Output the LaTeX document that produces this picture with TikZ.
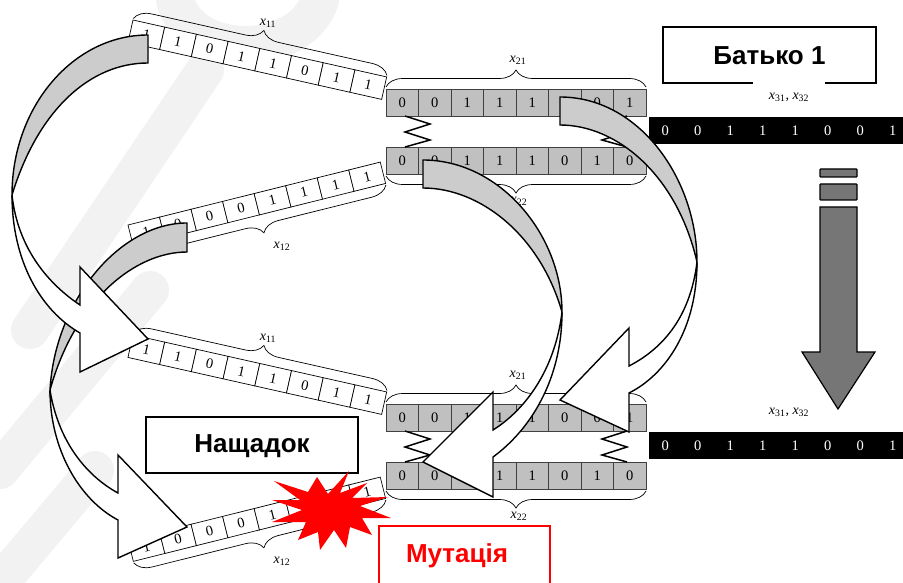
\documentclass[tikz,border=0pt]{standalone}
\usepackage{fontspec}
\setmainfont{Liberation Serif}
\newfontfamily\boxfont{Liberation Sans}
\usetikzlibrary{decorations.pathreplacing}

\definecolor{cellgray}{RGB}{192,192,192}
\definecolor{bandgray}{RGB}{204,204,204}
\definecolor{downgray}{RGB}{118,118,118}
\definecolor{mutred}{RGB}{255,0,0}
\definecolor{wmark}{RGB}{242,242,242}

\tikzset{
  whitecell/.style={draw=black, line width=0.7pt, fill=white},
  graycell/.style={draw=black!75, line width=0.7pt, fill=cellgray},
  digit/.style={font=\fontsize{14.5}{15}\selectfont, inner sep=0pt},
  wdigit/.style={digit, text=white},
  lbl/.style={font=\fontsize{14}{14}\selectfont, inner sep=1pt},
  bracestyle/.style={decorate, decoration={brace, amplitude=17pt}, line width=0.7pt},
  titlebox/.style={draw=black, line width=1.8pt, fill=white, minimum width=213pt,
    minimum height=56pt, inner sep=0pt},
  titletext/.style={font=\boxfont\bfseries\fontsize{26}{26}\selectfont, inner sep=0pt},
  band/.style={draw=black, line width=1.4pt, fill=bandgray, line join=miter},
  whiteband/.style={draw=black, line width=1.4pt, fill=white, line join=miter},
  zig/.style={draw=black, line width=1.5pt},
  wmstroke/.style={draw=wmark, line width=38pt, line cap=round},
}

% one set of chromosomes: x11, x12, x21, x22 and x31/x32; #1 = name prefix
\newcommand\chromset[1]{%
  % x11, slanted down to the right
  \begin{scope}[shift={(133,20)}, rotate=-12.65]
    \foreach \b [count=\i from 0] in {1,1,0,1,1,0,1,1}{
      \draw[whitecell] (\i*32.5,0) rectangle ++(32.5,23);
      \node[digit, transform shape] (#1a\i) at (\i*32.5+16.25,11.5) {\b};}
    \draw[bracestyle] (0,-1.5) -- (260,-1.5);
  \end{scope}
  \node[lbl] (#1la) at (268,23) {\textit{x}\textsubscript{11}};
  % x12, slanted up to the right
  \begin{scope}[shift={(128,225)}, rotate=14]
    \foreach \b [count=\i from 0] in {1,0,0,0,1,1,1,1}{
      \draw[whitecell] (\i*32.5,0) rectangle ++(32.5,22);
      \node[digit, transform shape] (#1b\i) at (\i*32.5+16.25,11) {\b};}
    \draw[bracestyle] (260,23.5) -- (0,23.5);
  \end{scope}
  \node[lbl] (#1lb) at (282,246) {\textit{x}\textsubscript{12}};
  % x21
  \foreach \b [count=\i from 0] in {0,0,1,1,1,0,0,1}{
    \draw[graycell] (386+\i*32.5,89) rectangle ++(32.5,27);
    \node[digit] (#1c\i) at (386+\i*32.5+16.25,102.5) {\b};}
  \draw[bracestyle] (386,87) -- (646,87);
  \node[lbl] (#1lc) at (518,60) {\textit{x}\textsubscript{21}};
  % x22
  \foreach \b [count=\i from 0] in {0,0,1,1,1,0,1,0}{
    \draw[graycell] (386+\i*32.5,147) rectangle ++(32.5,27);
    \node[digit] (#1d\i) at (386+\i*32.5+16.25,160.5) {\b};}
  \draw[bracestyle] (646,176) -- (386,176);
  \node[lbl] (#1ld) at (519,201) {\textit{x}\textsubscript{22}};
  % crossover springs
  \draw[zig] (405,116) -- (430,124) -- (405,132) -- (430,140) -- (405,147);
  \draw[zig] (627,116) -- (602,124) -- (627,132) -- (602,140) -- (627,147);
  % x31, x32
  \fill[black] (649,117) rectangle (915,144);
  \foreach \b [count=\i from 0] in {0,0,1,1,1,0,0,1}{
    \node[wdigit] (#1e\i) at (665.25+\i*32.5,130.5) {\b};}
}

\begin{document}
\begin{tikzpicture}[x=1pt, y=-1pt]
\useasboundingbox (0,0) rectangle (903,583);
\clip (0,0) rectangle (903,583);
\fill[white] (0,0) rectangle (903,583);

% faint background emblem
\draw[wmstroke] (30,330) -- (205,70);
\draw[wmstroke] (0,470) -- (150,290);
\draw[wmstroke] (0,583) -- (95,470);
\draw[wmstroke] (175,0) .. controls (190,60) and (300,60) .. (320,0);

% parents and offspring
\chromset{p}
\node[titlebox] (father) at (769.5,55) {};
\node[titletext] (fathertext) at (769.5,56) {Батько 1};
\node[lbl, fill=white, minimum width=72pt, minimum height=32pt] (plx) at (789,97)
  {\textit{x}\textsubscript{31}, \textit{x}\textsubscript{32}};
\begin{scope}[shift={(0,315)}]
  \chromset{c}
  \node[lbl] (clx) at (789,97) {\textit{x}\textsubscript{31}, \textit{x}\textsubscript{32}};
\end{scope}

\node[titlebox, minimum width=212pt] (child) at (252,445) {};
\node[titletext] (childtext) at (252,446) {Нащадок};

% curved arrow: x12 (parent) -> x12 (offspring)
\draw[band] (187,223) .. controls (120,223) and (55,300) .. (50,390)
  .. controls (75,300) and (135,252) .. (187,252) -- cycle;
\draw[whiteband] (50,390) .. controls (50,450) and (80,500) .. (118,520)
  -- (118,558) -- (187,527) -- (118,455) -- (118,493)
  .. controls (85,475) and (58,440) .. (50,390) -- cycle;

% curved arrow: x11 (parent) -> x11 (offspring)
\draw[band] (148,35) .. controls (73,35) and (12,107) .. (12,195)
  .. controls (38,110) and (90,63) .. (148,63) -- cycle;
\draw[whiteband] (12,195) .. controls (12,260) and (40,310) .. (80,333)
  -- (80,372) -- (148,339) -- (80,267) -- (80,305)
  .. controls (50,285) and (18,250) .. (12,195) -- cycle;

% curved arrow: x22 (parent) -> x22 (offspring)
\draw[band] (423,160) .. controls (500,160) and (562,235) .. (562,312)
  .. controls (540,235) and (480,188) .. (423,188) -- cycle;
\draw[whiteband] (562,312) .. controls (562,380) and (530,430) .. (493,457)
  -- (493,497) -- (423,462) -- (493,392) -- (493,430)
  .. controls (525,410) and (555,370) .. (562,312) -- cycle;

% curved arrow: x21 (parent) -> x21 (offspring)
\draw[band] (560,97) .. controls (640,97) and (697,180) .. (697,262)
  .. controls (677,175) and (617,125) .. (560,125) -- cycle;
\draw[whiteband] (697,262) .. controls (697,330) and (665,375) .. (629,393)
  -- (629,432) -- (560,400) -- (629,328) -- (629,366)
  .. controls (660,350) and (690,320) .. (697,262) -- cycle;

% downward block arrow
\draw[fill=downgray, line width=1.2pt, rounded corners=0.8pt] (820,169) rectangle (857,177);
\draw[fill=downgray, line width=1.2pt, rounded corners=0.8pt] (820,184) rectangle (857,200);
\draw[fill=downgray, line width=1.2pt, line join=miter] (820,207) -- (857,207) -- (857,352)
  -- (875,352) -- (838,409) -- (802,352) -- (820,352) -- cycle;

% mutation burst
\fill[mutred] (349,471) -- (340,493) -- (367,483) -- (352,498) -- (388,497) -- (360,506)
  -- (391,518) -- (362,518) -- (372,535) -- (350,527) -- (346,548) -- (334,530)
  -- (320,550) -- (318,532) -- (298,540) -- (306,522) -- (272,522) -- (302,510)
  -- (272,500) -- (300,500) -- (274,481) -- (308,492) -- (317,477) -- (328,494) -- cycle;

\draw[mutred, line width=1.8pt] (379,526) rectangle (550,600);
\node[titletext, text=mutred] (mutation) at (457,556) {Мутація};
\end{tikzpicture}
\end{document}
